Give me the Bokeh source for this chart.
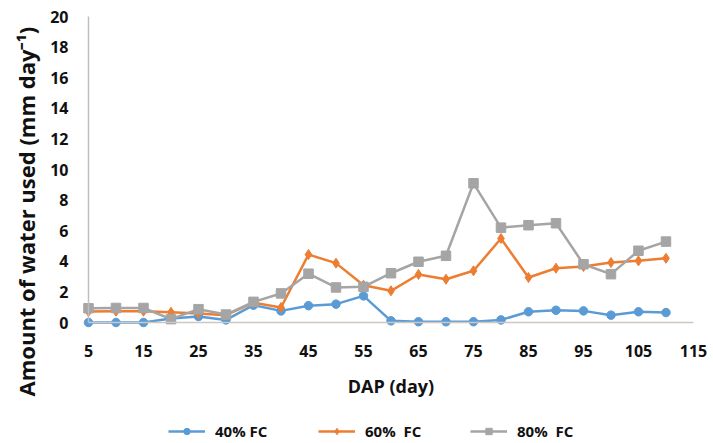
import math
from bokeh.plotting import figure
from bokeh.models import Range1d, FixedTicker, Label, Legend, LegendItem
from bokeh.embed import file_html
from bokeh.resources import INLINE

days = [5, 10, 15, 20, 25, 30, 35, 40, 45, 50, 55, 60, 65, 70, 75, 80, 85, 90, 95, 100, 105, 110]
fc40 = [0.0, 0.0, 0.0, 0.26, 0.39, 0.17, 1.13, 0.76, 1.1, 1.2, 1.74, 0.11, 0.05, 0.05, 0.05, 0.17, 0.7, 0.8, 0.76, 0.48, 0.7, 0.65]
fc60 = [0.72, 0.74, 0.74, 0.67, 0.59, 0.48, 1.3, 0.98, 4.44, 3.88, 2.44, 2.07, 3.14, 2.83, 3.38, 5.49, 2.94, 3.55, 3.66, 3.92, 4.03, 4.2]
fc80 = [0.93, 0.95, 0.95, 0.22, 0.87, 0.52, 1.35, 1.9, 3.19, 2.29, 2.33, 3.22, 3.97, 4.36, 9.1, 6.2, 6.36, 6.49, 3.81, 3.16, 4.69, 5.29]
series_names = ["40% FC", "60%  FC", "80%  FC"]
x_ticks = [5, 15, 25, 35, 45, 55, 65, 75, 85, 95, 105, 115]
y_ticks = [0, 2, 4, 6, 8, 10, 12, 14, 16, 18, 20]
x_bounds = (5, 115)
y_bounds = (0, 20)

FONT = "Open Sans"
BLUE, ORANGE, GRAY = "#5B9BD5", "#ED7D31", "#A5A5A5"

# the frame fills the whole figure; both axes are pinned at the data origin (5, 0)
p = figure(width=713, height=443, output_backend="svg", toolbar_location=None,
           x_range=Range1d(-11.0, 118.64), y_range=Range1d(-7.91, 21.05),
           min_border_left=0, min_border_right=0, min_border_top=0, min_border_bottom=0)
p.outline_line_color = None
p.xgrid.grid_line_color = None
p.ygrid.grid_line_color = None

for ax in (p.xaxis[0], p.yaxis[0]):
    ax.major_tick_line_color = None
    ax.minor_tick_line_color = None
    ax.major_tick_out = 0
    ax.major_tick_in = 0
    ax.major_label_text_font = FONT
    ax.major_label_text_font_style = "bold"
    ax.major_label_text_font_size = "16px"
    ax.major_label_text_color = "#111111"
    ax.major_label_standoff = 20

p.xaxis[0].fixed_location = y_bounds[0]
p.yaxis[0].fixed_location = x_bounds[0]
p.xaxis[0].bounds = x_bounds
p.yaxis[0].bounds = y_bounds
p.xaxis[0].major_label_standoff = 22
p.xaxis[0].ticker = FixedTicker(ticks=x_ticks)
p.yaxis[0].ticker = FixedTicker(ticks=y_ticks)
p.xaxis[0].axis_line_color = "#CFC7C2"
p.xaxis[0].axis_line_width = 1.5
p.yaxis[0].axis_line_color = "#BFBFBF"
p.yaxis[0].axis_line_width = 1.5

p.xaxis[0].axis_label = "DAP (day)"
p.xaxis[0].axis_label_text_font = FONT
p.xaxis[0].axis_label_text_font_style = "bold"
p.xaxis[0].axis_label_text_font_size = "18px"
p.xaxis[0].axis_label_text_color = "#111111"
p.xaxis[0].axis_label_standoff = 14

r1l = p.line(days, fc40, line_color=BLUE, line_width=2.5)
r1m = p.scatter(days, fc40, marker="circle", size=8.5, fill_color=BLUE, line_color=BLUE)
r2l = p.line(days, fc60, line_color=ORANGE, line_width=2.5)
r2m = p.scatter(days, fc60, marker="diamond", size=10, fill_color=ORANGE, line_color=ORANGE)
r3l = p.line(days, fc80, line_color=GRAY, line_width=2.5)
r3m = p.scatter(days, fc80, marker="square", size=9.5, fill_color=GRAY, line_color=GRAY)

ylab = Label(x=-6.3, y=7.25, text="Amount of water used (mm day\u207b\u00b9)", angle=math.pi / 2,
             text_align="center", text_baseline="middle", text_font=FONT,
             text_font_style="bold", text_font_size="22px", text_color="#111111")
p.add_layout(ylab)

renderer_pairs = [(r1l, r1m), (r2l, r2m), (r3l, r3m)]
legend_x = [168, 318, 470]
for name, rr, lx in zip(series_names, renderer_pairs, legend_x):
    lg = Legend(items=[LegendItem(label=name, renderers=list(rr))],
                orientation="horizontal", location=(lx, 2))
    lg.label_text_font = FONT
    lg.label_text_font_style = "bold"
    lg.label_text_font_size = "15px"
    lg.label_text_color = "#111111"
    lg.glyph_width = 37
    lg.glyph_height = 16
    lg.label_height = 16
    lg.label_standoff = 10
    lg.padding = 0
    lg.margin = 0
    lg.border_line_color = None
    lg.background_fill_alpha = 0
    p.add_layout(lg)

open("out.html", "w").write(file_html(p, INLINE))
